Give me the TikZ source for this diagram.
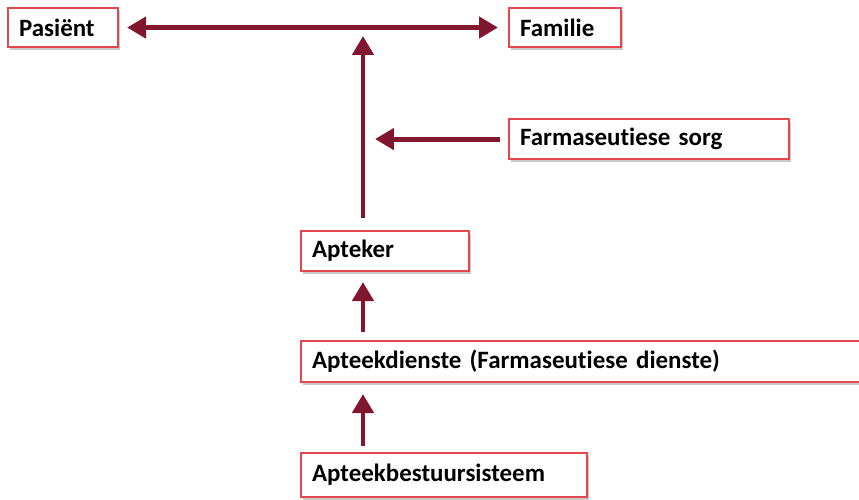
\documentclass[tikz,border=0pt]{standalone}
\usepackage{fontspec}
\setmainfont[Ligatures=CommonOff, WordSpace=0.7]{Carlito}
\usetikzlibrary{positioning,shadows,arrows.meta}
\definecolor{ZorgRed}{RGB}{230,70,78}
\definecolor{ZorgWine}{RGB}{128,22,48}

\begin{document}
\begin{tikzpicture}[
  x=0.02cm, y=-0.02cm,
  box/.style={
    draw=ZorgRed,
    line width=1.2pt,
    fill=white,
    anchor=north west,
    font=\fontsize{14.2}{16}\selectfont\bfseries,
    align=left,
    inner xsep=0.22cm,
    inner ysep=0pt,
    minimum height=0.78cm,
    drop shadow={shadow xshift=0.04cm, shadow yshift=-0.05cm, opacity=0.35, fill=black!60},
  },
  arr/.style={-{Triangle[length=0.38cm, width=0.42cm]}, line width=2.8pt, ZorgWine},
  dbl/.style={{Triangle[length=0.38cm, width=0.42cm]}-{Triangle[length=0.38cm, width=0.42cm]}, line width=2.8pt, ZorgWine},
]
  \useasboundingbox (0,0) rectangle (859,500);

  \node[box, text width=1.76cm] (pasient) at (7,7) {Pasiënt};
  \node[box, text width=1.8cm] (familie) at (508,7) {Familie};
  \node[box, text width=5.16cm, minimum height=0.8cm] (sorg) at (508,118) {Farmaseutiese sorg};
  \node[box, text width=2.92cm, minimum height=0.8cm] (apteker) at (300,230) {Apteker};
  \node[box, text width=10.96cm, minimum height=0.82cm] (dienste) at (300,340) {Apteekdienste (Farmaseutiese dienste)};
  \node[box, text width=5.28cm, minimum height=0.88cm] (bestuur) at (300,452) {Apteekbestuursisteem};

  \coordinate (spine) at (363,36);

  % top line between the two people
  \draw[dbl, shorten <=0.16cm, shorten >=0.2cm] (pasient) -- (familie);
  \draw[arr, shorten <=0.24cm] (apteker.north -| spine) -- (spine);
  \draw[arr, shorten <=0.16cm, shorten >=0.24cm] (sorg.west) -- (sorg.west -| spine);

  % stack below
  \draw[arr, shorten <=0.16cm, shorten >=0.2cm] (dienste.north -| spine) -- (apteker.south -| spine);
  \draw[arr, shorten <=0.12cm, shorten >=0.22cm] (bestuur.north -| spine) -- (dienste.south -| spine);
\end{tikzpicture}
\end{document}
